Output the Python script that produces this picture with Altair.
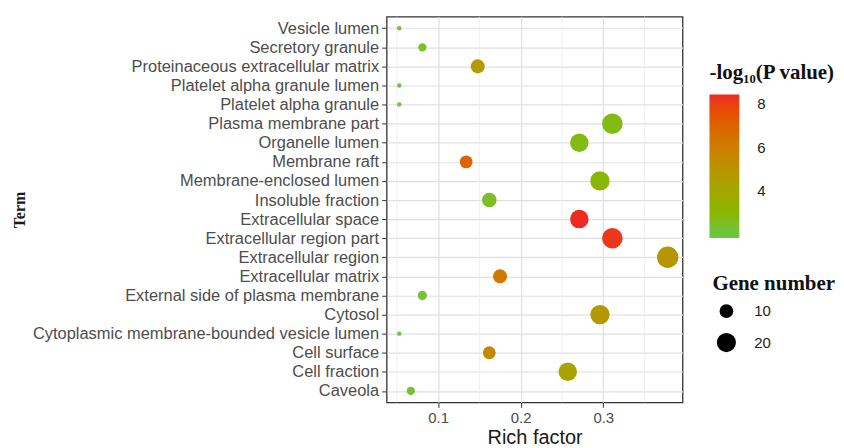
import altair as alt
import pandas as pd

terms = [
    "Vesicle lumen", "Secretory granule", "Proteinaceous extracellular matrix",
    "Platelet alpha granule lumen", "Platelet alpha granule", "Plasma membrane part",
    "Organelle lumen", "Membrane raft", "Membrane-enclosed lumen", "Insoluble fraction",
    "Extracellular space", "Extracellular region part", "Extracellular region",
    "Extracellular matrix", "External side of plasma membrane", "Cytosol",
    "Cytoplasmic membrane-bounded vesicle lumen", "Cell surface", "Cell fraction", "Caveola",
]
rich_factor = [0.053, 0.081, 0.148, 0.053, 0.053, 0.311, 0.271, 0.134, 0.296, 0.162,
               0.271, 0.311, 0.378, 0.175, 0.081, 0.296, 0.053, 0.162, 0.257, 0.067]
gene_number = [2, 5, 13, 2, 2, 27, 22, 11, 24, 14,
               22, 27, 29, 13, 6, 24, 2, 11, 22, 5]
neg_log10_p = [1.9, 2.5, 4.7, 1.85, 1.85, 2.8, 2.8, 7.0, 3.0, 2.5,
               8.45, 8.2, 4.9, 6.3, 2.3, 4.8, 1.83, 5.5, 4.2, 2.3]
x_minor_grid = [0.05, 0.15, 0.25, 0.35]
x_ticks = [0.1, 0.2, 0.3]
color_ticks = [4, 6, 8]
size_ticks = [10, 20]

df = pd.DataFrame({
    "Term": terms,
    "Rich factor": rich_factor,
    "Gene number": gene_number,
    "p": neg_log10_p,
})
grid_df = pd.DataFrame({"g": x_minor_grid})

xscale = alt.Scale(domain=[0.0377, 0.396], nice=False, zero=False)

grid = alt.Chart(grid_df).mark_rule(color="#ececec", strokeWidth=0.8).encode(
    x=alt.X("g:Q", scale=xscale)
)

points = alt.Chart(df).mark_circle(opacity=1).encode(
    x=alt.X("Rich factor:Q", scale=xscale,
            axis=alt.Axis(values=x_ticks, format=".1f", title="Rich factor",
                          grid=True, gridColor="#e0e0e0", gridWidth=1.2)),
    y=alt.Y("Term:N", sort=terms,
            scale=alt.Scale(type="point", padding=0.6),
            axis=alt.Axis(title="Term", grid=True, gridColor="#e0e0e0", gridWidth=1.2,
                          titleX=-368, titleBaseline="middle")),
    color=alt.Color("p:Q",
                    scale=alt.Scale(range=["#68c844", "#ee2a22"], interpolate="hcl", zero=False),
                    legend=alt.Legend(title="-log₁₀(P value)", values=color_ticks,
                                      gradientLength=144, gradientThickness=30,
                                      orient="none", legendX=324, legendY=45,
                                      titlePadding=12, labelOffset=18)),
    size=alt.Size("Gene number:Q",
                  scale=alt.Scale(domain=[2, 29], range=[20, 459], zero=False),
                  legend=alt.Legend(title="Gene number", values=size_ticks,
                                    orient="none", legendX=327, legendY=257,
                                    symbolOffset=4, labelOffset=18, rowPadding=10,
                                    titlePadding=10,
                                    symbolFillColor="black", symbolStrokeColor="black")),
)

chart = alt.layer(grid, points).properties(
    width=297, height=387,
    padding={"left": 4, "top": 7, "right": 0, "bottom": 0},
).configure_view(
    stroke="#333333", strokeWidth=1.3
).configure_axis(
    labelFont="Liberation Sans", labelColor="#4d4d4d",
    tickColor="#333333", tickSize=5, domain=False,
    titleColor="#1a1a1a", labelLimit=500,
).configure_axisY(
    labelFontSize=16.5,
    titleFont="Liberation Serif", titleFontSize=16, titleFontWeight="bold",
    titlePadding=3, labelPadding=3,
).configure_axisX(
    labelFontSize=15,
    titleFont="Liberation Sans", titleFontSize=20, titleFontWeight="normal",
    titlePadding=2, labelPadding=3,
).configure_legend(
    titleFont="Liberation Serif", titleFontSize=21, titleFontWeight="bold",
    titleColor="#111111", labelFont="Liberation Sans", labelFontSize=15,
    labelColor="#222222", padding=0, gradientStrokeWidth=0,
)

chart.save("out.html", embed_options={"renderer": "svg", "actions": False})
